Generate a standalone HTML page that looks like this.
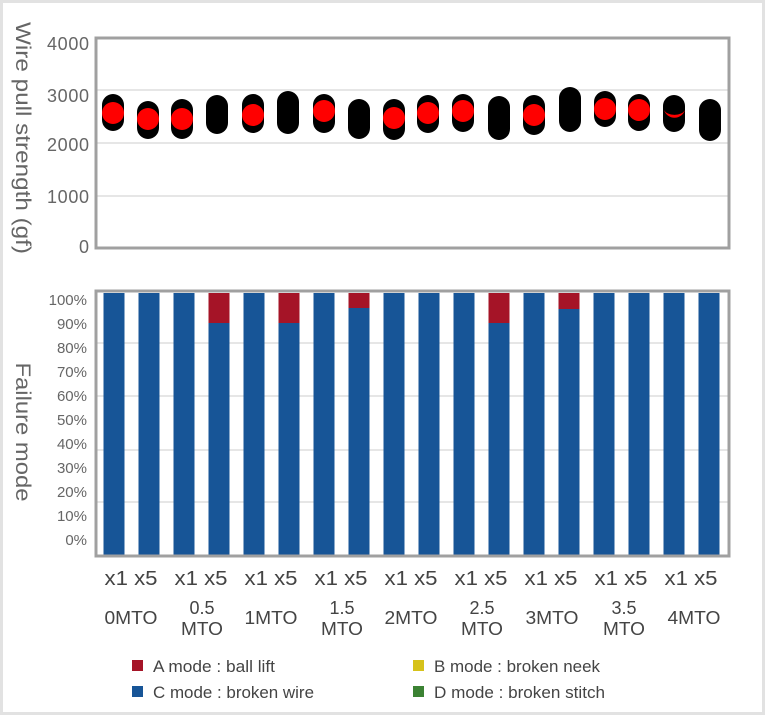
<!DOCTYPE html>
<html><head><meta charset="utf-8"><style>
html,body{margin:0;padding:0;background:#fff;}
svg{display:block;font-family:"Liberation Sans",sans-serif;}
</style></head><body>
<svg width="768" height="717" viewBox="0 0 768 717" xmlns="http://www.w3.org/2000/svg">
<rect x="1.5" y="1.5" width="762" height="712" fill="#fff" stroke="#e2e2e2" stroke-width="3"/>
<g stroke="#e6e6e6" stroke-width="2">
<line x1="96" y1="90" x2="729" y2="90"/><line x1="96" y1="143" x2="729" y2="143"/><line x1="96" y1="196" x2="729" y2="196"/>
</g>
<g fill="#000">
<rect x="102" y="94" width="22" height="37" rx="11"/>
<rect x="137" y="101" width="22" height="38" rx="11"/>
<rect x="171" y="99" width="22" height="40" rx="11"/>
<rect x="206" y="95" width="22" height="39" rx="11"/>
<rect x="242" y="94" width="22" height="39" rx="11"/>
<rect x="277" y="91" width="22" height="43" rx="11"/>
<rect x="313" y="94" width="22" height="39" rx="11"/>
<rect x="348" y="99" width="22" height="40" rx="11"/>
<rect x="383" y="99" width="22" height="41" rx="11"/>
<rect x="417" y="95" width="22" height="38" rx="11"/>
<rect x="452" y="94" width="22" height="38" rx="11"/>
<rect x="488" y="96" width="22" height="44" rx="11"/>
<rect x="523" y="95" width="22" height="40" rx="11"/>
<rect x="559" y="87" width="22" height="45" rx="11"/>
<rect x="594" y="91" width="22" height="36" rx="11"/>
<rect x="628" y="94" width="22" height="37" rx="11"/>
<rect x="663" y="95" width="22" height="37" rx="11"/>
<rect x="699" y="99" width="22" height="42" rx="11"/>
</g>
<g fill="#ff0000">
<circle cx="113" cy="113" r="11"/><circle cx="148" cy="119" r="11"/><circle cx="182" cy="119" r="11"/>
<circle cx="253" cy="115" r="11"/><circle cx="324" cy="111" r="11"/><circle cx="394" cy="118" r="11"/>
<circle cx="428" cy="113" r="11"/><circle cx="463" cy="111" r="11"/><circle cx="534" cy="115" r="11"/>
<circle cx="605" cy="109" r="11"/><circle cx="639" cy="110" r="11"/>
<path d="M664 110 A11 11 0 0 0 685 110 A11 7 0 0 1 664 110Z"/>
</g>
<rect x="96" y="38" width="633" height="210" fill="none" stroke="#a0a0a0" stroke-width="3"/>
<g fill="#666" font-size="18" text-anchor="end">
<text x="89" y="50" textLength="42">4000</text><text x="89" y="102" textLength="42">3000</text><text x="89" y="151" textLength="42">2000</text><text x="89" y="203" textLength="42">1000</text><text x="89" y="253">0</text>
</g>
<text transform="translate(16,138) rotate(90)" fill="#666" font-size="21" text-anchor="middle" textLength="232" lengthAdjust="spacingAndGlyphs">Wire pull strength (gf)</text>
<g stroke="#e6e6e6" stroke-width="2">
<line x1="96" y1="343" x2="729" y2="343"/><line x1="96" y1="396" x2="729" y2="396"/><line x1="96" y1="450" x2="729" y2="450"/><line x1="96" y1="502" x2="729" y2="502"/>
</g>
<g fill="#175597">
<rect x="103.5" y="293" width="21" height="262"/><rect x="138.5" y="293" width="21" height="262"/>
<rect x="173.5" y="293" width="21" height="262"/><rect x="208.5" y="293" width="21" height="262"/>
<rect x="243.5" y="293" width="21" height="262"/><rect x="278.5" y="293" width="21" height="262"/>
<rect x="313.5" y="293" width="21" height="262"/><rect x="348.5" y="293" width="21" height="262"/>
<rect x="383.5" y="293" width="21" height="262"/><rect x="418.5" y="293" width="21" height="262"/>
<rect x="453.5" y="293" width="21" height="262"/><rect x="488.5" y="293" width="21" height="262"/>
<rect x="523.5" y="293" width="21" height="262"/><rect x="558.5" y="293" width="21" height="262"/>
<rect x="593.5" y="293" width="21" height="262"/><rect x="628.5" y="293" width="21" height="262"/>
<rect x="663.5" y="293" width="21" height="262"/><rect x="698.5" y="293" width="21" height="262"/>
</g>
<g fill="#a51427">
<rect x="208.5" y="293" width="21" height="30"/><rect x="278.5" y="293" width="21" height="30"/>
<rect x="348.5" y="293" width="21" height="15"/><rect x="488.5" y="293" width="21" height="30"/>
<rect x="558.5" y="293" width="21" height="16"/>
</g>
<rect x="96" y="291" width="633" height="265" fill="none" stroke="#a0a0a0" stroke-width="3"/>
<g fill="#666" font-size="15" text-anchor="end">
<text x="87" y="305">100%</text><text x="87" y="329">90%</text><text x="87" y="353">80%</text><text x="87" y="377">70%</text>
<text x="87" y="401">60%</text><text x="87" y="425">50%</text><text x="87" y="449">40%</text><text x="87" y="473">30%</text>
<text x="87" y="497">20%</text><text x="87" y="521">10%</text><text x="87" y="545">0%</text>
</g>
<text transform="translate(16,432) rotate(90)" fill="#666" font-size="21" text-anchor="middle" textLength="139" lengthAdjust="spacingAndGlyphs">Failure mode</text>
<g fill="#444" font-size="20" text-anchor="middle" lengthAdjust="spacingAndGlyphs">
<text x="131" y="585" textLength="53" lengthAdjust="spacingAndGlyphs">x1 x5</text><text x="201" y="585" textLength="53" lengthAdjust="spacingAndGlyphs">x1 x5</text><text x="271" y="585" textLength="53" lengthAdjust="spacingAndGlyphs">x1 x5</text>
<text x="341" y="585" textLength="53" lengthAdjust="spacingAndGlyphs">x1 x5</text><text x="411" y="585" textLength="53" lengthAdjust="spacingAndGlyphs">x1 x5</text><text x="481" y="585" textLength="53" lengthAdjust="spacingAndGlyphs">x1 x5</text>
<text x="551" y="585" textLength="53" lengthAdjust="spacingAndGlyphs">x1 x5</text><text x="621" y="585" textLength="53" lengthAdjust="spacingAndGlyphs">x1 x5</text><text x="691" y="585" textLength="53" lengthAdjust="spacingAndGlyphs">x1 x5</text>
</g>
<g fill="#444" font-size="18" text-anchor="middle">
<text x="131" y="624" textLength="53" lengthAdjust="spacingAndGlyphs">0MTO</text>
<text x="202" y="614">0.5</text><text x="202" y="635" textLength="42" lengthAdjust="spacingAndGlyphs">MTO</text>
<text x="271" y="624" textLength="53" lengthAdjust="spacingAndGlyphs">1MTO</text>
<text x="342" y="614">1.5</text><text x="342" y="635" textLength="42" lengthAdjust="spacingAndGlyphs">MTO</text>
<text x="411" y="624" textLength="53" lengthAdjust="spacingAndGlyphs">2MTO</text>
<text x="482" y="614">2.5</text><text x="482" y="635" textLength="42" lengthAdjust="spacingAndGlyphs">MTO</text>
<text x="552" y="624" textLength="53" lengthAdjust="spacingAndGlyphs">3MTO</text>
<text x="624" y="614">3.5</text><text x="624" y="635" textLength="42" lengthAdjust="spacingAndGlyphs">MTO</text>
<text x="694" y="624" textLength="53" lengthAdjust="spacingAndGlyphs">4MTO</text>
</g>
<rect x="132" y="660" width="11" height="11" fill="#a51427"/>
<rect x="132" y="686" width="11" height="11" fill="#175597"/>
<rect x="413" y="660" width="11" height="11" fill="#d6c21a"/>
<rect x="413" y="686" width="11" height="11" fill="#3b8233"/>
<g fill="#444" font-size="17">
<text x="153" y="672" textLength="122" lengthAdjust="spacingAndGlyphs">A mode : ball lift</text>
<text x="153" y="698" textLength="161" lengthAdjust="spacingAndGlyphs">C mode : broken wire</text>
<text x="434" y="672" textLength="166" lengthAdjust="spacingAndGlyphs">B mode : broken neek</text>
<text x="434" y="698" textLength="171" lengthAdjust="spacingAndGlyphs">D mode : broken stitch</text>
</g>
</svg>
</body></html>
